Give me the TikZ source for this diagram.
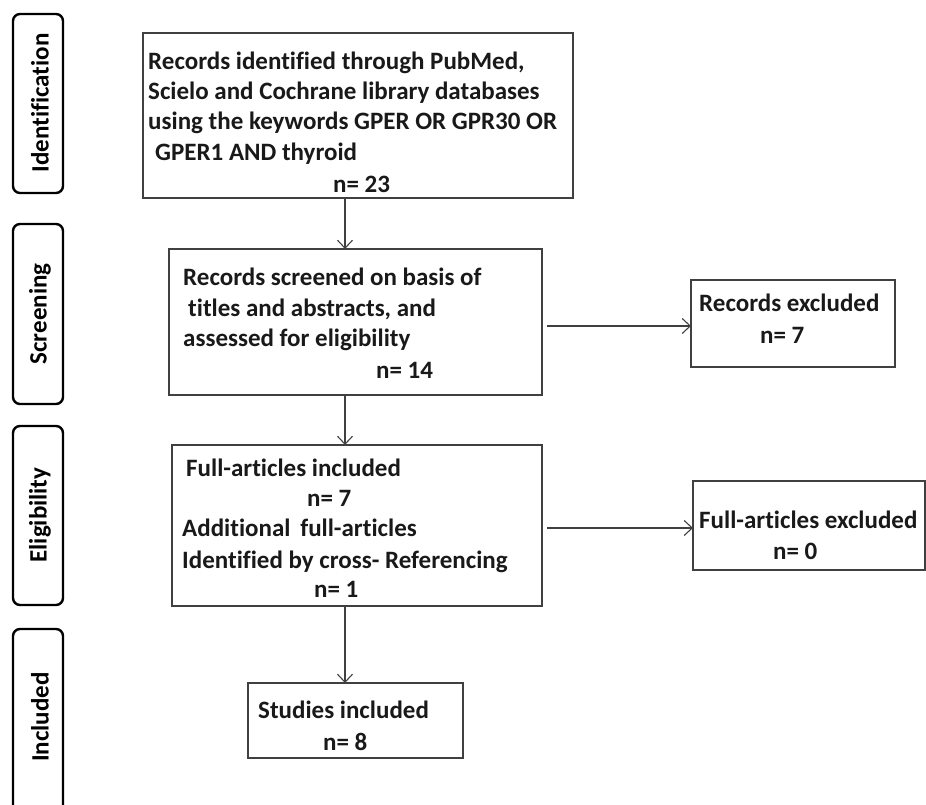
\documentclass[tikz,border=0pt]{standalone}
\usepackage{fontspec}
\setmainfont{Carlito}[Ligatures=NoCommon]
\usetikzlibrary{arrows.meta}
\definecolor{linegray}{HTML}{404040}
\tikzset{
  x=1pt, y=-1pt,
  mainbox/.style={draw=linegray, line width=1.4pt, fill=white},
  phasebox/.style={draw=black, line width=2.4pt, rounded corners=7pt},
  phaselabel/.style={rotate=90, font=\fontsize{25}{30}\selectfont\bfseries, inner sep=0pt},
  txt/.style={anchor=base west, inner sep=0pt, text=black!90, font=\fontsize{25}{30}\selectfont\bfseries},
  flow/.style={draw=linegray, line width=1.2pt, -{Straight Barb[length=8pt,width=15pt,line width=1.1pt]}}
}
\begin{document}
\begin{tikzpicture}
\useasboundingbox (0,0) rectangle (926,805);
\begin{scope}
\clip (0,0) rectangle (926,805);
% phase boxes
\draw[phasebox] (13,14) rectangle (63,193);
\node[phaselabel] (pid) at (40,103) {Identification};
\draw[phasebox] (13,224) rectangle (63,404);
\node[phaselabel] (psc) at (40,314) {Screening};
\draw[phasebox] (13,426) rectangle (63,605);
\node[phaselabel] (pel) at (40,515) {Eligibility};
\draw[phasebox] (13,629) rectangle (63,830);
\node[phaselabel] (pin) at (40,717) {Included};
\end{scope}

% main boxes
\path[mainbox] (143,33) rectangle (573,198);
\coordinate (b1s) at (345,198);
\path[mainbox] (169,249) rectangle (542,395);
\coordinate (b2n) at (345,249);
\coordinate (b2s) at (345,395);
\coordinate (b2e) at (542,326);
\path[mainbox] (172,445) rectangle (542,606);
\coordinate (b3n) at (345,445);
\coordinate (b3s) at (345,606);
\coordinate (b3e) at (542,528);
\path[mainbox] (691,280) rectangle (895,367);
\coordinate (exw) at (691,326);
\path[mainbox] (693,481) rectangle (925,570);
\coordinate (fxw) at (693,528);
\path[mainbox] (248,683) rectangle (463,758);
\coordinate (stn) at (345,683);

% box 1 text
\node[txt] (t11) at (148,70) {Records identified through PubMed,};
\node[txt] (t12) at (148,100) {Scielo and Cochrane library databases};
\node[txt] (t13) at (148,130) {using the keywords GPER OR GPR30 OR};
\node[txt] (t14) at (155,161) {GPER1 AND thyroid};
\node[txt] (t15) at (333,193) {n= 23};
% box 2 text
\node[txt] (t21) at (183,285) {Records screened on basis of};
\node[txt] (t22) at (188,316) {titles and abstracts, and};
\node[txt] (t23) at (183,346) {assessed for eligibility};
\node[txt] (t24) at (376,378) {n= 14};
% box 3 text
\node[txt] (t31) at (186,476) {Full-articles included};
\node[txt] (t32) at (307,506) {n= 7};
\node[txt] (t33) at (182,536) {Additional\, full-articles};
\node[txt] (t34) at (182,568) {Identified by cross- Referencing};
\node[txt] (t35) at (314,597) {n= 1};
% excluded boxes
\node[txt] (t41) at (699,311) {Records excluded};
\node[txt] (t42) at (760,343) {n= 7};
\node[txt] (t51) at (699,528) {Full-articles excluded};
\node[txt] (t52) at (773,559) {n= 0};
% studies
\node[txt] (t61) at (258,718) {Studies included};
\node[txt] (t62) at (323,750) {n= 8};

% connectors
\draw[flow] (b1s) -- (b2n);
\draw[flow] (b2s) -- (b3n);
\draw[flow] (b3s) -- (stn);
\draw[flow] ([xshift=5pt]b2e) -- (exw);
\draw[flow] ([xshift=5pt]b3e) -- (fxw);
\end{tikzpicture}
\end{document}
